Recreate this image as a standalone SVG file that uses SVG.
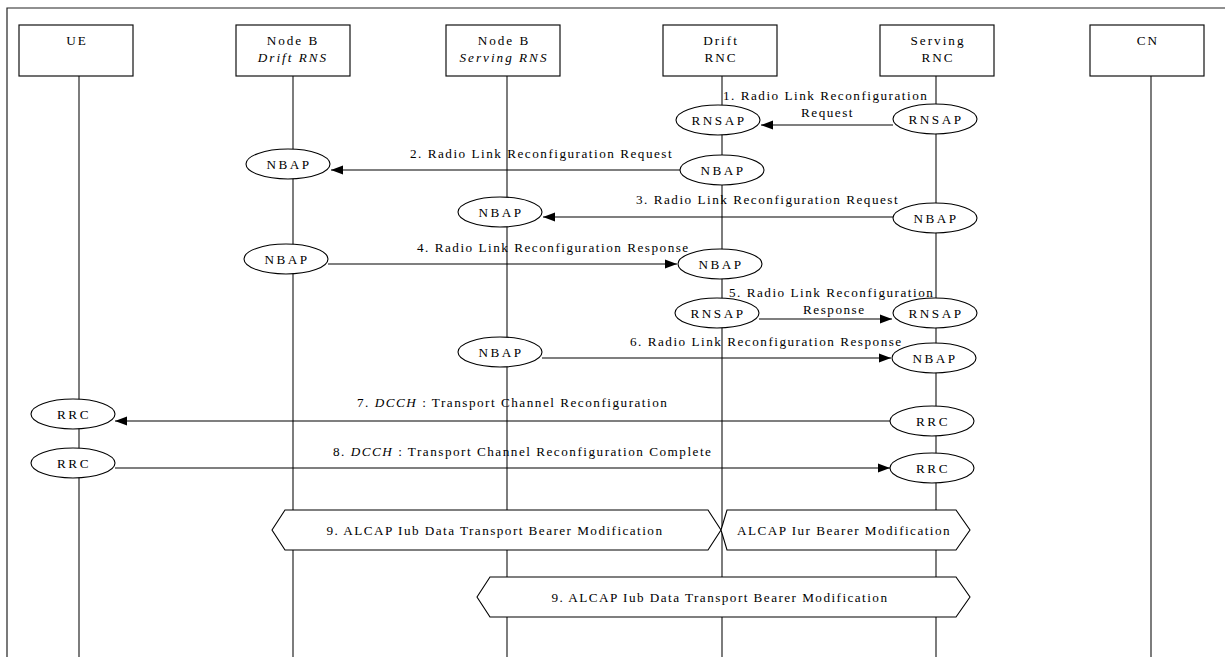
<svg xmlns="http://www.w3.org/2000/svg" width="1225" height="657" viewBox="0 0 1225 657">
<defs>
<style>
.frame{fill:none;stroke:#222;stroke-width:1.2}
.box{fill:#fff;stroke:#111;stroke-width:1.2}
.life{stroke:#111;stroke-width:1.1;fill:none}
.ell{fill:#fff;stroke:#000;stroke-width:1.1}
.msg{stroke:#000;stroke-width:1.1;fill:none;marker-end:url(#ah)}
.hex{fill:#fff;stroke:#000;stroke-width:1.1}
text{font-family:"Liberation Serif","Times New Roman",serif;font-size:13.2px;fill:#000}
.nt{text-anchor:middle;letter-spacing:2px}
.et{text-anchor:middle;letter-spacing:2.5px}
.mt{letter-spacing:1.5px}
.ht{text-anchor:middle;letter-spacing:1.45px}
.it{font-style:italic}
</style>
<marker id="ah" markerWidth="12" markerHeight="10" refX="12" refY="5" orient="auto" markerUnits="userSpaceOnUse">
<path d="M0,0.5 L12,5 L0,9.5 Z" fill="#000"/>
</marker>
</defs>
<rect width="1225" height="657" fill="#fff"/>
<path class="frame" d="M7,657 V8 H1225"/>

<g id="lifelines">
<line class="life" x1="79" y1="76" x2="79" y2="657"/>
<line class="life" x1="293" y1="76" x2="293" y2="657"/>
<line class="life" x1="507" y1="76" x2="507" y2="657"/>
<line class="life" x1="722" y1="76" x2="722" y2="657"/>
<line class="life" x1="936" y1="76" x2="936" y2="657"/>
<line class="life" x1="1151" y1="76" x2="1151" y2="657"/>
</g>

<g id="ue"><rect class="box" x="19" y="25" width="114" height="51"/><text class="nt" x="77" y="45">UE</text></g>
<g id="nodeb-drift"><rect class="box" x="236" y="25" width="114" height="51"/><text class="nt" x="293" y="45">Node B</text><text class="nt it" x="293" y="62">Drift RNS</text></g>
<g id="nodeb-serving"><rect class="box" x="446" y="25" width="114" height="51"/><text class="nt" x="504" y="45">Node B</text><text class="nt it" x="504" y="62">Serving RNS</text></g>
<g id="drift-rnc"><rect class="box" x="663" y="25" width="114" height="51"/><text class="nt" x="721" y="45">Drift</text><text class="nt" x="721" y="62">RNC</text></g>
<g id="serving-rnc"><rect class="box" x="880" y="25" width="114" height="51"/><text class="nt" x="938" y="45">Serving</text><text class="nt" x="938" y="62">RNC</text></g>
<g id="cn"><rect class="box" x="1090" y="25" width="114" height="51"/><text class="nt" x="1148" y="45">CN</text></g>

<g id="connectors">
<line class="msg" x1="893" y1="125" x2="761" y2="125"/>
<line class="msg" x1="680" y1="170" x2="331" y2="170"/>
<line class="msg" x1="893" y1="217" x2="543" y2="217"/>
<line class="msg" x1="328" y1="264" x2="677" y2="264"/>
<line class="msg" x1="759" y1="319" x2="892" y2="319"/>
<line class="msg" x1="542" y1="358" x2="891" y2="358"/>
<line class="msg" x1="890" y1="421" x2="115" y2="421"/>
<line class="msg" x1="115" y1="468" x2="890" y2="468"/>
</g>

<g id="labels">
<text class="mt" x="723" y="100">1. Radio Link Reconfiguration</text>
<text class="mt" x="801" y="117">Request</text>
<text class="mt" x="410" y="158">2. Radio Link Reconfiguration Request</text>
<text class="mt" x="636" y="204">3. Radio Link Reconfiguration Request</text>
<text class="mt" x="417" y="252">4. Radio Link Reconfiguration Response</text>
<text class="mt" x="729" y="297">5. Radio Link Reconfiguration</text>
<text class="mt" x="803" y="314">Response</text>
<text class="mt" x="630" y="346">6. Radio Link Reconfiguration Response</text>
<text class="mt" x="357" y="407">7. <tspan class="it">DCCH</tspan> : Transport Channel Reconfiguration</text>
<text class="mt" x="333" y="456">8. <tspan class="it">DCCH</tspan> : Transport Channel Reconfiguration Complete</text>
</g>

<g id="e1a"><ellipse class="ell" cx="718" cy="120" rx="42" ry="15"/><text class="et" x="719" y="125">RNSAP</text></g>
<g id="e1b"><ellipse class="ell" cx="935" cy="119" rx="42" ry="15"/><text class="et" x="936" y="124">RNSAP</text></g>
<g id="e2a"><ellipse class="ell" cx="288" cy="164" rx="42" ry="15"/><text class="et" x="289" y="169">NBAP</text></g>
<g id="e2b"><ellipse class="ell" cx="722" cy="170" rx="42" ry="15"/><text class="et" x="723" y="175">NBAP</text></g>
<g id="e3a"><ellipse class="ell" cx="500" cy="212" rx="42" ry="15"/><text class="et" x="501" y="217">NBAP</text></g>
<g id="e3b"><ellipse class="ell" cx="935" cy="218" rx="42" ry="15"/><text class="et" x="936" y="223">NBAP</text></g>
<g id="e4a"><ellipse class="ell" cx="286" cy="259" rx="42" ry="15"/><text class="et" x="287" y="264">NBAP</text></g>
<g id="e4b"><ellipse class="ell" cx="720" cy="264" rx="42" ry="15"/><text class="et" x="721" y="269">NBAP</text></g>
<g id="e5a"><ellipse class="ell" cx="717" cy="313" rx="42" ry="15"/><text class="et" x="718" y="318">RNSAP</text></g>
<g id="e5b"><ellipse class="ell" cx="935" cy="313" rx="42" ry="15"/><text class="et" x="936" y="318">RNSAP</text></g>
<g id="e6a"><ellipse class="ell" cx="500" cy="352" rx="42" ry="15"/><text class="et" x="501" y="357">NBAP</text></g>
<g id="e6b"><ellipse class="ell" cx="934" cy="358" rx="42" ry="15"/><text class="et" x="935" y="363">NBAP</text></g>
<g id="e7a"><ellipse class="ell" cx="73" cy="414" rx="42" ry="15"/><text class="et" x="74" y="419">RRC</text></g>
<g id="e7b"><ellipse class="ell" cx="932" cy="421" rx="42" ry="15"/><text class="et" x="933" y="426">RRC</text></g>
<g id="e8a"><ellipse class="ell" cx="73" cy="463" rx="42" ry="15"/><text class="et" x="74" y="468">RRC</text></g>
<g id="e8b"><ellipse class="ell" cx="932" cy="468" rx="42" ry="15"/><text class="et" x="933" y="473">RRC</text></g>

<g id="hex1"><polygon class="hex" points="272,530 285,510 708,510 721,530 708,550 285,550"/><text class="ht" x="495" y="535">9. ALCAP Iub Data Transport Bearer Modification</text></g>
<g id="hex2"><polygon class="hex" points="721,530 727,510 956,510 970,530 956,550 727,550"/><text class="ht" x="844" y="535">ALCAP Iur Bearer Modification</text></g>
<g id="hex3"><polygon class="hex" points="477,597 490,577 956,577 970,597 956,617 490,617"/><text class="ht" x="720" y="602">9. ALCAP Iub Data Transport Bearer Modification</text></g>
</svg>
